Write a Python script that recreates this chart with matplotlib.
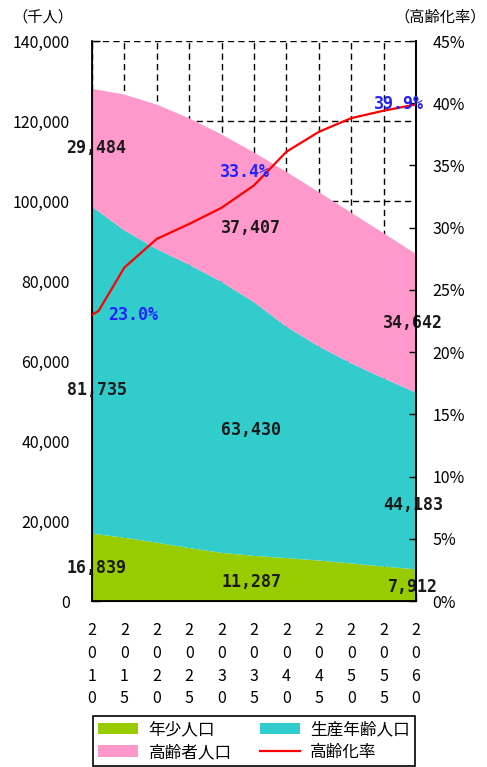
"""Japan population projection: stacked age groups with the ageing rate."""

import matplotlib

matplotlib.use("Agg")
import matplotlib.pyplot as plt
from matplotlib.lines import Line2D
from matplotlib.patches import Patch

plt.rcParams["font.family"] = ["Noto Sans CJK JP", "DejaVu Sans"]

# population in thousands, every five years
years = [2010, 2015, 2020, 2025, 2030, 2035, 2040, 2045, 2050, 2055, 2060]
young = [16839, 15827, 14568, 13240, 12039, 11287, 10732, 10116, 9387, 8614, 7912]
working = [81735, 76818, 73408, 70845, 67730, 63430, 57866, 53531, 50013, 47063, 44183]
elderly = [29484, 33952, 36124, 36573, 36849, 37407, 38678, 38564, 37676, 36257, 34642]

# ageing rate (%)
rate_years = [2010, 2011, 2015, 2020, 2025, 2030, 2035, 2040, 2045, 2050, 2055, 2060]
rate = [23.0, 23.3, 26.8, 29.1, 30.3, 31.6, 33.4, 36.1, 37.7, 38.8, 39.4, 39.9]

series_names = ["年少人口", "生産年齢人口", "高齢者人口"]
rate_name = "高齢化率"
colors = ["#99CC00", "#33CCCC", "#FF99CC"]
rate_color = "#FF0000"

# years whose values are written on the chart
label_years = [2010, 2035, 2060]
# nudges for the band values: x in years, y in thousands (young, working, elderly)
label_dx = [0.7, -0.4, -0.5]
label_dy = [[-0.2, -4.9, 0.0], [-0.9, -0.3, -0.1], [-0.5, -6.0, 0.1]]
# where the rate values sit (year, %)
rate_label_x = [2016.3, 2033.6, 2057.4]
rate_label_y = [23.0, 34.5, 39.9]


def main():
    fig = plt.figure(figsize=(4.87, 7.67), dpi=100)
    ax = fig.add_axes([92 / 487, 166 / 767, 324 / 487, 560 / 767])

    ax.stackplot(years, young, working, elderly, colors=colors, linewidth=0, zorder=1)
    ax.set_xlim(2010, 2060)
    ax.set_ylim(0, 140000)
    ax.set_yticks(range(0, 140001, 20000))
    ax.set_yticklabels([f"{v:,}" for v in range(0, 140001, 20000)])
    ax.set_xticks(years)
    ax.set_xticklabels(["\n".join(str(y)) for y in years], linespacing=1.45, va="top")

    ax.set_axisbelow(True)
    ax.grid(True, color="black", linestyle=(0, (4.5, 3)), linewidth=1.0)
    ax.spines["top"].set_visible(False)
    for side in ("left", "bottom", "right"):
        ax.spines[side].set_linewidth(1.3)
    ax.tick_params(axis="y", direction="in", length=6, width=1, labelsize=11.5, pad=16)
    ax.tick_params(axis="x", direction="in", length=6, width=1, labelsize=11.5, pad=15)

    ax2 = ax.twinx()
    ax2.plot(rate_years, rate, color=rate_color, linewidth=1.6, zorder=3)
    ax2.set_ylim(0, 45)
    ax2.set_yticks(range(0, 46, 5))
    ax2.set_yticklabels([f"{v}%" for v in range(0, 46, 5)])
    ax2.tick_params(axis="y", direction="in", length=5, width=1, labelsize=11.5, pad=12)
    ax2.spines["top"].set_visible(False)
    ax2.spines["right"].set_linewidth(1.3)

    mono = dict(family="DejaVu Sans Mono", weight="bold", fontsize=12,
                ha="center", va="center", zorder=5)

    # band values, centred in each band
    for k, yr in enumerate(label_years):
        i = years.index(yr)
        base = 0
        for j, v in enumerate([young[i], working[i], elderly[i]]):
            mid = base + v / 2 + label_dy[k][j] * 1000
            ax.text(yr + label_dx[k], mid, f"{v:,}", color="#1a1a1a", **mono)
            base += v

    # ageing rate values
    for yr, x, y in zip(label_years, rate_label_x, rate_label_y):
        value = rate[rate_years.index(yr)]
        ax2.text(x, y, f"{value:.1f}%", color="#2222FF", **mono)

    fig.text(12 / 487, 1 - 17 / 767, "（千人）", fontsize=11, ha="left", va="center")
    fig.text(486 / 487, 1 - 17 / 767, "（高齢化率）", fontsize=11, ha="right", va="center")

    handles = [
        Patch(facecolor=colors[0], edgecolor="none"),
        Patch(facecolor=colors[2], edgecolor="none"),
        Patch(facecolor=colors[1], edgecolor="none"),
        Line2D([], [], color=rate_color, linewidth=1.6),
    ]
    labels = [series_names[0], series_names[2], series_names[1], rate_name]
    leg = fig.legend(handles, labels, ncol=2, loc="lower center",
                     bbox_to_anchor=(254 / 487, 1 / 767), borderaxespad=0,
                     fontsize=12, frameon=True, fancybox=False, framealpha=1,
                     edgecolor="black", handlelength=2.4, handleheight=0.7,
                     columnspacing=1.7, labelspacing=0.35, borderpad=0.3,
                     handletextpad=0.6)
    leg.get_frame().set_linewidth(1.2)

    fig.savefig("out.png", dpi=100)
    plt.close(fig)


if __name__ == "__main__":
    main()
